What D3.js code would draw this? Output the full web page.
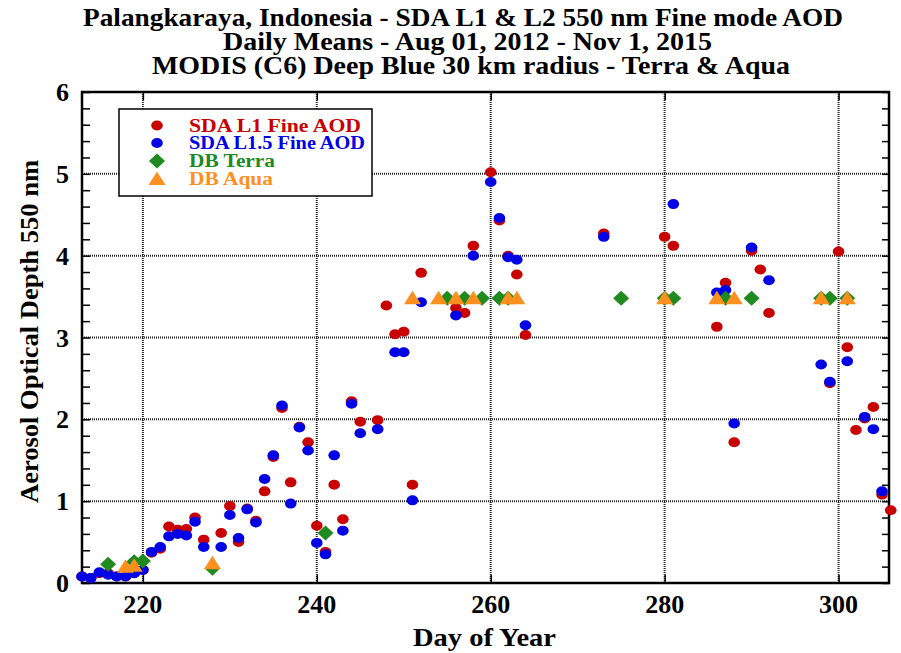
<!DOCTYPE html>
<html>
<head>
<meta charset="utf-8">
<script src="https://cdn.jsdelivr.net/npm/d3@7"></script>
<style>
  body { margin: 0; background: #fff; }
  svg { display: block; font-family: "Liberation Serif", "DejaVu Serif", serif; font-weight: bold; }
</style>
</head>
<body>
<div id="chart"></div>
<script>
// SDA L1 (red) daily means
var l1Days = [213,214,215,216,217,218,219,220,221,222,223,224,225,226,227,229,230,231,232,233,234,235,236,237,238,239,240,241,242,243,244,245,247,248,249,250,251,252,256,257,258,260,261,262,263,264,273,280,281,286,287,288,290,291,292,299,300,301,302,303,304,305,306];
var l1Aod  = [0.08,0.06,0.12,0.12,0.08,0.08,0.12,0.16,0.37,0.42,0.69,0.65,0.66,0.80,0.53,0.61,0.94,0.50,0.91,0.76,1.12,1.54,2.14,1.23,1.91,1.72,0.70,0.38,1.20,0.78,2.22,1.97,1.99,3.39,3.04,3.07,1.20,3.79,3.36,3.30,4.12,5.02,4.43,4.00,3.77,3.03,4.27,4.23,4.12,3.13,3.67,1.72,4.06,3.83,3.30,2.44,4.05,2.88,1.87,2.01,2.15,1.08,0.89];

// SDA L1.5 (blue) daily means
var l15Days = [213,214,215,216,217,218,219,220,221,222,223,224,225,226,227,229,230,231,232,233,234,235,236,237,238,239,240,241,242,243,244,245,247,249,250,251,252,256,258,260,261,262,263,264,273,281,286,287,288,290,292,298,299,301,303,304,305];
var l15Aod  = [0.08,0.06,0.13,0.10,0.08,0.08,0.12,0.16,0.38,0.44,0.57,0.60,0.58,0.75,0.44,0.44,0.83,0.55,0.90,0.74,1.27,1.56,2.17,0.97,1.90,1.62,0.49,0.35,1.56,0.64,2.19,1.83,1.88,2.82,2.82,1.01,3.43,3.27,4.00,4.90,4.46,3.98,3.95,3.15,4.23,4.63,3.55,3.58,1.95,4.10,3.70,2.67,2.46,2.71,2.03,1.88,1.12];

// MODIS Deep Blue
var terraDays = [216,219,220,228,241,255,257,259,261,262,275,280,281,287,290,298,299,301];
var terraAod  = [0.23,0.26,0.27,0.18,0.61,3.48,3.48,3.48,3.48,3.48,3.48,3.48,3.48,3.48,3.48,3.48,3.48,3.48];
var aquaDays  = [218,219,228,251,254,256,258,262,263,280,286,288,298,301];
var aquaAod   = [0.20,0.21,0.24,3.48,3.48,3.48,3.48,3.48,3.48,3.48,3.48,3.48,3.48,3.48];

var xTicks = [220, 240, 260, 280, 300];
var yTicks = [0, 1, 2, 3, 4, 5, 6];
var titleLines = [
  "Palangkaraya, Indonesia - SDA L1 & L2 550 nm Fine mode AOD",
  "Daily Means - Aug 01, 2012 - Nov 1, 2015",
  "MODIS (C6) Deep Blue 30 km radius - Terra & Aqua"
];
var legendNames = ["SDA L1 Fine AOD", "SDA L1.5 Fine AOD", "DB Terra", "DB Aqua"];

var width = 901,
    height = 653;
var plotLeft = 82, plotRight = 889, plotTop = 92, plotBottom = 583;

var red = "#c80000", blue = "#0000e6", green = "#1f8a1f", orange = "#ff8f1f";

var x = d3.scaleLinear().domain([213, 305.8]).range([plotLeft, plotRight]);
var y = d3.scaleLinear().domain([0, 6]).range([plotBottom, plotTop]);

var svg = d3.select("#chart").append("svg")
    .attr("width", width)
    .attr("height", height);

// titles, fitted to the widths of the original
var titleX = [83, 223, 152], titleW = [760, 489, 638], titleY = [26, 50, 74];
svg.selectAll("text.title")
    .data(titleLines)
  .enter().append("text")
    .attr("class", "title")
    .attr("x", function(d, i) { return titleX[i]; })
    .attr("y", function(d, i) { return titleY[i]; })
    .attr("textLength", function(d, i) { return titleW[i]; })
    .attr("lengthAdjust", "spacingAndGlyphs")
    .style("font-size", "26px")
    .text(function(d) { return d; });

// dotted grid
svg.append("g").selectAll("line")
    .data(xTicks)
  .enter().append("line")
    .attr("x1", function(d) { return x(d); })
    .attr("x2", function(d) { return x(d); })
    .attr("y1", plotTop).attr("y2", plotBottom)
    .attr("stroke", "#222").attr("stroke-width", 2)
    .attr("stroke-dasharray", "1,1");

svg.append("g").selectAll("line")
    .data(yTicks.slice(1, 6))
  .enter().append("line")
    .attr("x1", plotLeft).attr("x2", plotRight)
    .attr("y1", function(d) { return y(d); })
    .attr("y2", function(d) { return y(d); })
    .attr("stroke", "#222").attr("stroke-width", 2)
    .attr("stroke-dasharray", "1,1");

// axes: ticks drawn inward on all four sides
var minor = d3.range(0, 6.01, 0.2);
var axisL = d3.axisRight(y).tickValues(minor).tickSize(8).tickFormat("");
var axisR = d3.axisLeft(y).tickValues(minor).tickSize(7).tickFormat("");
var axisB = d3.axisTop(x).tickValues(xTicks).tickSize(8).tickFormat("");
var axisT = d3.axisBottom(x).tickValues(xTicks).tickSize(8).tickFormat("");

function styleAxis(g) {
  g.select(".domain").remove();
  g.selectAll(".tick line").attr("stroke", "#000").attr("stroke-width", 1.5);
}
svg.append("g").attr("transform", "translate(" + plotLeft + ",0)").call(axisL).call(styleAxis);
svg.append("g").attr("transform", "translate(" + plotRight + ",0)").call(axisR).call(styleAxis);
svg.append("g").attr("transform", "translate(0," + plotBottom + ")").call(axisB).call(styleAxis);
svg.append("g").attr("transform", "translate(0," + plotTop + ")").call(axisT).call(styleAxis);

svg.append("rect")
    .attr("x", plotLeft).attr("y", plotTop)
    .attr("width", plotRight - plotLeft).attr("height", plotBottom - plotTop)
    .attr("fill", "none").attr("stroke", "#000").attr("stroke-width", 2.5);

// tick labels
svg.append("g").selectAll("text")
    .data(yTicks)
  .enter().append("text")
    .attr("x", 69)
    .attr("y", function(d) { return y(d) + 9; })
    .attr("text-anchor", "end")
    .style("font-size", "26px")
    .text(function(d) { return d; });

svg.append("g").selectAll("text")
    .data(xTicks)
  .enter().append("text")
    .attr("x", function(d) { return x(d); })
    .attr("y", 613)
    .attr("text-anchor", "middle")
    .style("font-size", "26px")
    .text(function(d) { return d; });

svg.append("text")
    .attr("x", 413).attr("y", 646)
    .attr("textLength", 143)
    .attr("lengthAdjust", "spacingAndGlyphs")
    .style("font-size", "26px")
    .text("Day of Year");

svg.append("text")
    .attr("transform", "translate(38,503) rotate(-90)")
    .attr("textLength", 343)
    .attr("lengthAdjust", "spacingAndGlyphs")
    .style("font-size", "25px")
    .text("Aerosol Optical Depth 550 nm");

// marker shapes
function diamond(cx, cy) {
  return "M" + cx + "," + (cy - 7.5) + "L" + (cx + 8) + "," + cy +
         "L" + cx + "," + (cy + 7.5) + "L" + (cx - 8) + "," + cy + "Z";
}
function triangle(cx, cy) {
  return "M" + cx + "," + (cy - 7.5) + "L" + (cx + 8.5) + "," + (cy + 6) +
         "L" + (cx - 8.5) + "," + (cy + 6) + "Z";
}

function dots(days, vals, color) {
  svg.append("g").selectAll("ellipse")
      .data(days)
    .enter().append("ellipse")
      .attr("cx", function(d) { return x(d); })
      .attr("cy", function(d, i) { return y(vals[i]); })
      .attr("rx", 5.8).attr("ry", 5)
      .attr("fill", color);
}
dots(l1Days, l1Aod, red);
dots(l15Days, l15Aod, blue);

svg.append("g").selectAll("path")
    .data(terraDays)
  .enter().append("path")
    .attr("d", function(d, i) { return diamond(x(d), y(terraAod[i])); })
    .attr("fill", green);

svg.append("g").selectAll("path")
    .data(aquaDays)
  .enter().append("path")
    .attr("d", function(d, i) { return triangle(x(d), y(aquaAod[i])); })
    .attr("fill", orange);

// legend
var legend = svg.append("g");
legend.append("rect")
    .attr("x", 119).attr("y", 109)
    .attr("width", 253).attr("height", 87)
    .attr("fill", "#fff").attr("stroke", "#000").attr("stroke-width", 1.5);

var legendColors = [red, blue, green, orange];
var legendW = [172, 176, 86, 84];
var rowY = [125.5, 143, 161, 179];
legend.selectAll("text")
    .data(legendNames)
  .enter().append("text")
    .attr("x", 189)
    .attr("y", function(d, i) { return rowY[i] + 6; })
    .attr("fill", function(d, i) { return legendColors[i]; })
    .attr("textLength", function(d, i) { return legendW[i]; })
    .attr("lengthAdjust", "spacingAndGlyphs")
    .style("font-size", "18px")
    .text(function(d) { return d; });

legend.append("ellipse").attr("cx", 157).attr("cy", rowY[0]).attr("rx", 5.8).attr("ry", 5).attr("fill", red);
legend.append("ellipse").attr("cx", 157).attr("cy", rowY[1]).attr("rx", 5.8).attr("ry", 5).attr("fill", blue);
legend.append("path").attr("d", diamond(157, rowY[2])).attr("fill", green);
legend.append("path").attr("d", triangle(157, rowY[3])).attr("fill", orange);
</script>
</body>
</html>
